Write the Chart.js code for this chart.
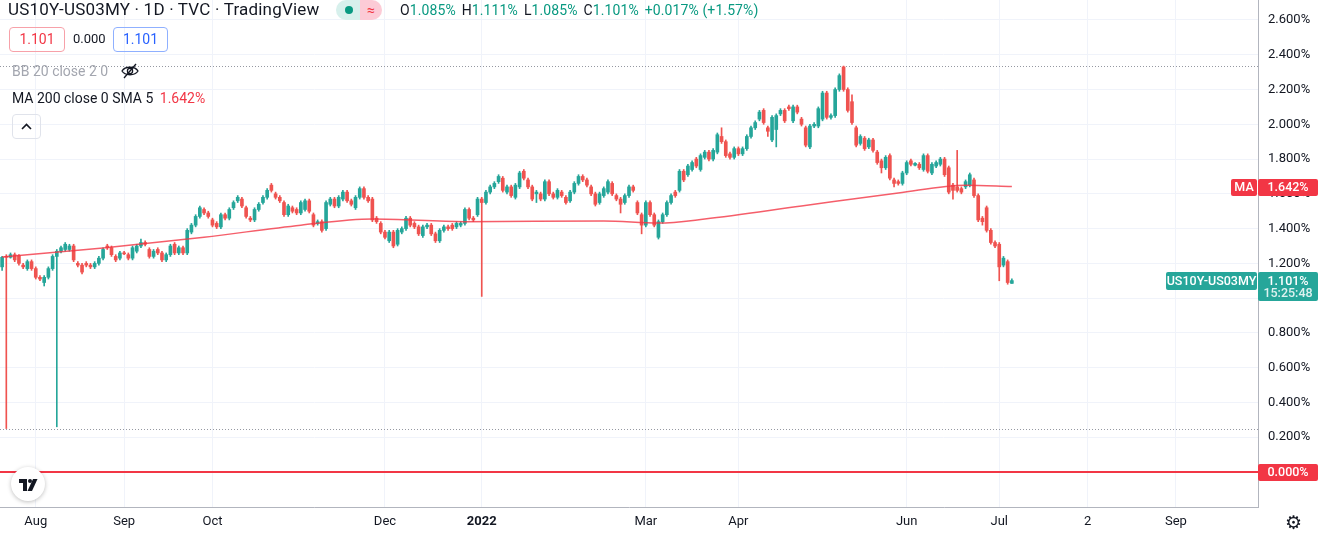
<!DOCTYPE html>
<html>
<head>
<meta charset="utf-8">
<title>US10Y-US03MY</title>
<script src="https://cdn.jsdelivr.net/npm/chart.js@4.4.1/dist/chart.umd.min.js"></script>
<style>
  html, body { margin: 0; padding: 0; background: #fff; overflow: hidden; }
  #wrap { position: relative; width: 1332px; height: 543px; font-family: Roboto, "Noto Sans", sans-serif; color: #131722; }
  #wrap canvas { position: absolute; left: 0; top: 0; }
  .abs { position: absolute; white-space: nowrap; }
  .title { left: 8px; top: -1px; font-size: 17px; line-height: 20px; letter-spacing: 0.2px; }
  .pill { left: 336px; top: 0px; height: 20px; width: 46px; border-radius: 10px; overflow: hidden; display: flex; }
  .pill .a { width: 24px; background: #d7f0ec; position: relative; }
  .pill .a i { position: absolute; left: 9px; top: 6px; width: 8px; height: 8px; border-radius: 50%; background: #089981; }
  .pill .b { width: 22px; background: #fccbd6; color: #f23645; font-size: 14px; line-height: 20px; text-align: center; }
  .ohlc { left: 400px; top: 0px; font-size: 14px; line-height: 20px; letter-spacing: 0.1px; }
  .ohlc b { font-weight: normal; color: #089981; margin-right: 6px; }
  .box { top: 27px; height: 23px; border-radius: 4px; font-size: 14px; line-height: 23px; text-align: center; }
  .row { left: 12px; font-size: 14px; line-height: 18px; }
  .btn { left: 12px; top: 114px; width: 27px; height: 23px; border: 1px solid #e0e3eb; border-radius: 4px; }
  .logo { left: 11px; top: 467px; width: 34px; height: 34px; border-radius: 50%; background: #fff; box-shadow: 0 1px 4px rgba(0,0,0,0.25); }
</style>
</head>
<body>
<div id="wrap">
  <canvas id="chart" width="1332" height="543"></canvas>

  <div class="abs title">US10Y-US03MY · 1D · TVC · TradingView</div>
  <div class="abs pill"><div class="a"><i></i></div><div class="b">≈</div></div>
  <div class="abs ohlc">O<b>1.085%</b>H<b>1.111%</b>L<b>1.085%</b>C<b>1.101%</b><b>+0.017% (+1.57%)</b></div>

  <div class="abs box" style="left:9px;width:54px;border:1px solid #f7a1a9;color:#f23645;">1.101</div>
  <div class="abs" style="left:73px;top:31px;font-size:13px;">0.000</div>
  <div class="abs box" style="left:113px;width:53px;border:1px solid #8fb0ff;color:#2962ff;">1.101</div>

  <div class="abs row" style="top:62px;color:#a3a6af;">BB 20 close 2 0</div>
  <svg class="abs" style="left:120px;top:62px;" width="20" height="18" viewBox="0 0 20 18">
    <path d="M2 9 C5 4,15 4,18 9 C15 14,5 14,2 9 Z" fill="none" stroke="#131722" stroke-width="1.3"/>
    <circle cx="10" cy="9" r="2.6" fill="none" stroke="#131722" stroke-width="1.3"/>
    <line x1="4" y1="16" x2="16" y2="2" stroke="#131722" stroke-width="1.3"/>
  </svg>
  <div class="abs row" style="top:89px;">MA 200 close 0 SMA 5 <span style="color:#f23645;margin-left:3px;">1.642%</span></div>
  <div class="abs btn">
    <svg width="27" height="23" viewBox="0 0 27 23"><polyline points="9,14 13.5,9.5 18,14" fill="none" stroke="#131722" stroke-width="1.6"/></svg>
  </div>

  <div class="abs logo">
    <svg width="34" height="34" viewBox="0 0 34 34">
      <path d="M8 12 H16 V24 H12 V16 H8 Z" fill="#131722"/>
      <circle cx="19" cy="14" r="2" fill="#131722"/>
      <path d="M22 12 H26.5 L21 24 H16.5 Z" fill="#131722"/>
    </svg>
  </div>
  <div class="abs" style="left:1285px;top:511px;font-size:19px;font-family:'DejaVu Sans';color:#131722;">⚙</div>
</div>

<script>
(function () {
    "use strict";

    // Daily candles, US10Y-US03MY spread (%)
    var opens = [
        1.18, 1.24, 1.235, 1.25, 1.245, 1.19, 1.17, 1.21, 1.17, 1.12,
        1.09, 1.12, 1.17, 1.24, 1.27, 1.28, 1.28, 1.30, 1.20, 1.19,
        1.20, 1.19, 1.18, 1.20, 1.23, 1.30, 1.29, 1.24, 1.23, 1.26,
        1.25, 1.23, 1.27, 1.30, 1.32, 1.28, 1.24, 1.28, 1.26, 1.22,
        1.25, 1.31, 1.26, 1.29, 1.26, 1.38, 1.42, 1.47, 1.51, 1.49,
        1.45, 1.43, 1.41, 1.48, 1.46, 1.52, 1.56, 1.57, 1.52, 1.46,
        1.45, 1.51, 1.55, 1.58, 1.65, 1.60, 1.58, 1.55, 1.48, 1.52,
        1.51, 1.49, 1.51, 1.56, 1.48, 1.43, 1.44, 1.40, 1.54, 1.57,
        1.53, 1.57, 1.61, 1.56, 1.52, 1.58, 1.63, 1.58, 1.57, 1.46,
        1.43, 1.38, 1.33, 1.38, 1.31, 1.38, 1.40, 1.46, 1.43, 1.41,
        1.36, 1.41, 1.42, 1.37, 1.33, 1.39, 1.41, 1.42, 1.41, 1.42,
        1.43, 1.51, 1.46, 1.48, 1.57, 1.55, 1.61, 1.64, 1.67, 1.69,
        1.61, 1.64, 1.58, 1.64, 1.73, 1.68, 1.64, 1.60, 1.60, 1.57,
        1.67, 1.60, 1.58, 1.61, 1.58, 1.56, 1.61, 1.66, 1.70, 1.68,
        1.64, 1.60, 1.55, 1.59, 1.61, 1.66, 1.59, 1.57, 1.55, 1.59,
        1.64, 1.55, 1.48, 1.42, 1.55, 1.48, 1.35, 1.44, 1.48, 1.55,
        1.61, 1.62, 1.73, 1.71, 1.74, 1.80, 1.74, 1.81, 1.84, 1.80,
        1.84, 1.93, 1.90, 1.83, 1.81, 1.86, 1.83, 1.86, 1.93, 1.98,
        2.03, 2.08, 1.98, 1.91, 1.97, 2.06, 2.08, 2.10, 2.02, 2.10,
        2.03, 1.98, 1.87, 1.99, 1.99, 2.03, 2.18, 2.04, 2.05, 2.20,
        2.33, 2.20, 2.13, 1.98, 1.89, 1.92, 1.87, 1.91, 1.84, 1.79,
        1.75, 1.82, 1.68, 1.67, 1.66, 1.72, 1.79, 1.765, 1.77, 1.74,
        1.82, 1.72, 1.76, 1.77, 1.80, 1.75, 1.65, 1.64, 1.63, 1.64,
        1.65, 1.68, 1.59, 1.46, 1.52, 1.39, 1.32, 1.31, 1.19, 1.21,
        1.085
    ];
    var highs = [
        1.24, 1.25, 1.26, 1.26, 1.25, 1.20, 1.22, 1.22, 1.18, 1.13,
        1.13, 1.18, 1.25, 1.28, 1.30, 1.32, 1.31, 1.31, 1.21, 1.20,
        1.21, 1.20, 1.21, 1.24, 1.29, 1.31, 1.30, 1.25, 1.27, 1.27,
        1.26, 1.30, 1.31, 1.34, 1.33, 1.29, 1.28, 1.29, 1.27, 1.26,
        1.31, 1.32, 1.30, 1.30, 1.40, 1.43, 1.48, 1.53, 1.52, 1.50,
        1.46, 1.44, 1.49, 1.49, 1.52, 1.56, 1.59, 1.58, 1.53, 1.47,
        1.52, 1.55, 1.59, 1.63, 1.66, 1.61, 1.59, 1.56, 1.54, 1.53,
        1.52, 1.56, 1.57, 1.57, 1.49, 1.45, 1.45, 1.56, 1.58, 1.58,
        1.59, 1.62, 1.62, 1.57, 1.59, 1.64, 1.64, 1.59, 1.58, 1.47,
        1.44, 1.39, 1.39, 1.39, 1.40, 1.41, 1.47, 1.47, 1.44, 1.42,
        1.42, 1.43, 1.43, 1.38, 1.40, 1.42, 1.42, 1.43, 1.44, 1.44,
        1.52, 1.52, 1.47, 1.58, 1.58, 1.62, 1.65, 1.67, 1.71, 1.70,
        1.65, 1.65, 1.66, 1.73, 1.74, 1.69, 1.65, 1.62, 1.61, 1.68,
        1.68, 1.61, 1.63, 1.62, 1.59, 1.62, 1.67, 1.71, 1.71, 1.69,
        1.65, 1.61, 1.61, 1.64, 1.68, 1.67, 1.60, 1.58, 1.60, 1.65,
        1.65, 1.56, 1.49, 1.56, 1.56, 1.49, 1.45, 1.49, 1.56, 1.60,
        1.62, 1.74, 1.74, 1.77, 1.79, 1.81, 1.83, 1.85, 1.85, 1.86,
        1.95, 1.98, 1.91, 1.84, 1.87, 1.87, 1.87, 1.94, 1.99, 2.02,
        2.08, 2.09, 1.99, 2.05, 2.06, 2.09, 2.09, 2.11, 2.11, 2.11,
        2.04, 1.99, 2.00, 2.01, 2.10, 2.19, 2.19, 2.06, 2.21, 2.29,
        2.335, 2.21, 2.17, 1.99, 1.94, 1.93, 1.92, 1.92, 1.85, 1.80,
        1.82, 1.83, 1.69, 1.68, 1.73, 1.79, 1.80, 1.78, 1.78, 1.83,
        1.83, 1.78, 1.79, 1.81, 1.81, 1.76, 1.66, 1.85, 1.64, 1.68,
        1.72, 1.69, 1.60, 1.47, 1.53, 1.40, 1.33, 1.32, 1.24, 1.22,
        1.111
    ];
    var lows = [
        1.16, 0.25, 1.23, 1.21, 1.19, 1.17, 1.16, 1.16, 1.11, 1.10,
        1.07, 1.11, 1.16, 0.26, 1.26, 1.27, 1.27, 1.21, 1.18, 1.14,
        1.18, 1.17, 1.17, 1.19, 1.22, 1.28, 1.24, 1.21, 1.22, 1.25,
        1.22, 1.22, 1.26, 1.29, 1.30, 1.23, 1.23, 1.25, 1.21, 1.21,
        1.24, 1.25, 1.25, 1.25, 1.25, 1.37, 1.41, 1.46, 1.48, 1.46,
        1.41, 1.40, 1.40, 1.45, 1.45, 1.51, 1.55, 1.52, 1.46, 1.44,
        1.44, 1.50, 1.54, 1.57, 1.61, 1.57, 1.55, 1.47, 1.47, 1.49,
        1.48, 1.48, 1.50, 1.49, 1.41, 1.42, 1.38, 1.39, 1.53, 1.52,
        1.52, 1.56, 1.55, 1.53, 1.51, 1.57, 1.57, 1.55, 1.44, 1.43,
        1.37, 1.34, 1.32, 1.29, 1.30, 1.37, 1.39, 1.41, 1.40, 1.36,
        1.35, 1.40, 1.36, 1.32, 1.32, 1.38, 1.39, 1.39, 1.40, 1.41,
        1.42, 1.45, 1.44, 1.47, 1.01, 1.54, 1.60, 1.63, 1.66, 1.61,
        1.60, 1.58, 1.57, 1.63, 1.68, 1.63, 1.56, 1.55, 1.56, 1.56,
        1.59, 1.57, 1.57, 1.58, 1.54, 1.55, 1.60, 1.65, 1.67, 1.64,
        1.59, 1.53, 1.54, 1.58, 1.60, 1.59, 1.56, 1.49, 1.54, 1.58,
        1.61, 1.48, 1.37, 1.41, 1.47, 1.41, 1.34, 1.43, 1.47, 1.54,
        1.58, 1.61, 1.67, 1.70, 1.73, 1.75, 1.73, 1.80, 1.79, 1.79,
        1.83, 1.89, 1.81, 1.80, 1.80, 1.82, 1.82, 1.85, 1.92, 1.97,
        2.02, 2.00, 1.93, 1.90, 1.87, 2.05, 2.01, 2.08, 2.01, 2.06,
        1.99, 1.87, 1.86, 1.98, 1.98, 2.02, 2.03, 2.03, 2.04, 2.19,
        2.19, 2.07, 2.00, 1.87, 1.88, 1.85, 1.86, 1.84, 1.77, 1.72,
        1.74, 1.68, 1.64, 1.65, 1.65, 1.71, 1.76, 1.76, 1.74, 1.73,
        1.72, 1.71, 1.75, 1.76, 1.70, 1.60, 1.57, 1.61, 1.60, 1.63,
        1.64, 1.58, 1.44, 1.42, 1.38, 1.31, 1.29, 1.10, 1.18, 1.08,
        1.085
    ];
    var closes = [
        1.235, 1.235, 1.25, 1.22, 1.20, 1.18, 1.21, 1.17, 1.12, 1.11,
        1.12, 1.17, 1.24, 1.27, 1.29, 1.31, 1.30, 1.22, 1.19, 1.15,
        1.19, 1.18, 1.20, 1.23, 1.28, 1.29, 1.25, 1.22, 1.26, 1.255,
        1.23, 1.29, 1.30, 1.32, 1.31, 1.24, 1.27, 1.26, 1.22, 1.25,
        1.30, 1.26, 1.29, 1.26, 1.39, 1.42, 1.47, 1.52, 1.49, 1.47,
        1.42, 1.41, 1.48, 1.46, 1.51, 1.55, 1.58, 1.53, 1.47, 1.45,
        1.51, 1.54, 1.58, 1.62, 1.62, 1.58, 1.56, 1.48, 1.53, 1.50,
        1.49, 1.55, 1.56, 1.50, 1.42, 1.44, 1.39, 1.55, 1.57, 1.53,
        1.58, 1.61, 1.56, 1.54, 1.58, 1.63, 1.58, 1.56, 1.45, 1.44,
        1.38, 1.35, 1.38, 1.30, 1.39, 1.40, 1.46, 1.42, 1.41, 1.37,
        1.41, 1.42, 1.37, 1.33, 1.39, 1.41, 1.40, 1.40, 1.43, 1.43,
        1.51, 1.46, 1.45, 1.57, 1.55, 1.61, 1.64, 1.66, 1.70, 1.62,
        1.64, 1.59, 1.65, 1.72, 1.69, 1.64, 1.57, 1.61, 1.57, 1.67,
        1.60, 1.58, 1.62, 1.59, 1.55, 1.61, 1.66, 1.70, 1.68, 1.65,
        1.60, 1.54, 1.60, 1.63, 1.67, 1.60, 1.57, 1.54, 1.59, 1.64,
        1.62, 1.49, 1.42, 1.55, 1.48, 1.42, 1.44, 1.48, 1.55, 1.59,
        1.59, 1.73, 1.68, 1.76, 1.78, 1.76, 1.82, 1.84, 1.80, 1.85,
        1.94, 1.90, 1.82, 1.81, 1.86, 1.83, 1.86, 1.93, 1.98, 2.01,
        2.07, 2.01, 1.96, 2.04, 2.05, 2.08, 2.02, 2.09, 2.10, 2.07,
        2.00, 1.88, 1.99, 2.00, 2.09, 2.18, 2.04, 2.05, 2.20, 2.28,
        2.20, 2.08, 2.01, 1.88, 1.93, 1.86, 1.91, 1.85, 1.78, 1.75,
        1.81, 1.69, 1.66, 1.66, 1.72, 1.78, 1.77, 1.775, 1.75, 1.82,
        1.73, 1.77, 1.78, 1.80, 1.71, 1.61, 1.62, 1.62, 1.61, 1.67,
        1.71, 1.59, 1.45, 1.44, 1.39, 1.32, 1.30, 1.18, 1.23, 1.09,
        1.101
    ];

    // MA 200 (SMA 5), sampled along the line at these candle slots
    var maSlots = [0, 24, 48, 71, 88, 110, 143, 156, 167, 190, 213, 229, 240];
    var maValues = [1.237, 1.288, 1.35, 1.42, 1.455, 1.44, 1.444, 1.432, 1.455, 1.53, 1.605, 1.65, 1.642];

    // Time axis
    var tickLabels = ["Aug", "Sep", "Oct", "Dec", "2022", "Mar", "Apr", "Jun", "Jul", "2", "Sep"];
    var tickSlots = [8, 29, 50, 91, 114, 153, 175, 215, 237, 258, 279];
    var SLOTS = 299;

    var lastClose = 1.101;
    var lastMA = 1.642;

    var UP = "#26a69a", DOWN = "#ef5350";

    var labels = [];
    for (var i = 0; i < SLOTS; i++) labels.push("");
    tickSlots.forEach(function (s, k) { labels[s] = tickLabels[k]; });

    var colors = closes.map(function (c, i) { return c >= opens[i] ? UP : DOWN; });
    var maData = closes.map(function () { return null; });
    maSlots.forEach(function (s, k) { maData[s] = maValues[k]; });

    var maxHigh = Math.max.apply(null, highs);
    var minLow = Math.min.apply(null, lows);

    // y range shown: 0% sits at 472px, 2.6% at 20px
    var Y_MIN = -0.2013, Y_MAX = 2.715;

    function box(ctx, x, y, w, h, bg, text, color, font) {
        ctx.fillStyle = bg;
        ctx.beginPath();
        ctx.roundRect(x, y, w, h, 2);
        ctx.fill();
        if (text) {
            ctx.fillStyle = color;
            ctx.font = font || "12px Roboto";
            ctx.textAlign = "center";
            ctx.textBaseline = "middle";
            ctx.fillText(text, x + w / 2, y + h / 2 + 0.5);
        }
    }

    // Price lines and right-hand labels
    var overlay = {
        id: "overlay",
        beforeDatasetsDraw: function (chart) {
            var ctx = chart.ctx, a = chart.chartArea, y = chart.scales.y;
            ctx.save();
            ctx.strokeStyle = "#9598a1";
            ctx.lineWidth = 1;
            ctx.setLineDash([1, 2]);
            [maxHigh, minLow].forEach(function (v) {
                var py = Math.round(y.getPixelForValue(v)) + 0.5;
                ctx.beginPath();
                ctx.moveTo(a.left, py);
                ctx.lineTo(a.right, py);
                ctx.stroke();
            });
            ctx.restore();
        },
        afterDraw: function (chart) {
            var ctx = chart.ctx, a = chart.chartArea, y = chart.scales.y;
            var x0 = a.right;
            var f = "500 12.5px Roboto";
            ctx.save();

            var z = Math.round(y.getPixelForValue(0));
            ctx.strokeStyle = "#f23645";
            ctx.lineWidth = 2;
            ctx.beginPath();
            ctx.moveTo(a.left, z);
            ctx.lineTo(a.right, z);
            ctx.stroke();
            box(ctx, x0, z - 8, 60, 17, "#f23645", "0.000%", "#fff", f);

            var m = Math.round(y.getPixelForValue(lastMA));
            box(ctx, x0 - 27, m - 8, 26, 17, "#f23645", "MA", "#fff", f);
            box(ctx, x0, m - 8, 60, 17, "#f23645", lastMA.toFixed(3) + "%", "#fff", f);

            var p = Math.round(y.getPixelForValue(lastClose));
            box(ctx, x0 - 92, p - 9, 91, 18, "#26a69a", "US10Y-US03MY", "#fff", f);
            box(ctx, x0, p - 9, 60, 29, "#26a69a", null);
            ctx.fillStyle = "#fff";
            ctx.font = f;
            ctx.textAlign = "center";
            ctx.textBaseline = "middle";
            ctx.fillText(lastClose.toFixed(3) + "%", x0 + 30, p + 0.5);
            ctx.fillStyle = "rgba(255,255,255,0.85)";
            ctx.fillText("15:25:48", x0 + 30, p + 13);
            ctx.restore();
        }
    };

    new Chart(document.getElementById("chart").getContext("2d"), {
        type: "bar",
        data: {
            labels: labels,
            datasets: [
                {
                    type: "line",
                    data: maData,
                    spanGaps: true,
                    cubicInterpolationMode: "monotone",
                    borderColor: "rgba(242, 54, 69, 0.8)",
                    borderWidth: 1.5,
                    pointRadius: 0,
                    order: 0
                },
                {
                    data: opens.map(function (o, i) { return [o, closes[i]]; }),
                    backgroundColor: colors,
                    barThickness: 3,
                    minBarLength: 1,
                    grouped: false,
                    order: 1
                },
                {
                    data: lows.map(function (l, i) { return [l, highs[i]]; }),
                    backgroundColor: colors,
                    barThickness: 1,
                    grouped: false,
                    order: 2
                }
            ]
        },
        options: {
            responsive: false,
            animation: false,
            layout: { padding: 0 },
            plugins: { legend: { display: false }, tooltip: { enabled: false } },
            scales: {
                x: {
                    grid: { color: "#f0f3fa", offset: false, drawTicks: false },
                    border: { color: "#b2b5be" },
                    ticks: {
                        autoSkip: false,
                        maxRotation: 0,
                        padding: 7,
                        color: "#131722",
                        font: function (c) {
                            var bold = c.tick && c.tick.label === "2022";
                            return { family: "Roboto", size: 13, weight: bold ? "bold" : "normal" };
                        },
                        callback: function (v, i) { return labels[i] ? labels[i] : null; }
                    },
                    afterFit: function (s) {
                        s.height = 36;
                        s.paddingLeft = 0;
                        s.paddingRight = 0;
                    }
                },
                y: {
                    position: "right",
                    min: Y_MIN,
                    max: Y_MAX,
                    grid: { color: "#f0f3fa", drawTicks: false },
                    border: { color: "#b2b5be" },
                    ticks: {
                        stepSize: 0.2,
                        includeBounds: false,
                        padding: 10,
                        color: "#131722",
                        font: { family: "Roboto", size: 13 },
                        callback: function (v) { return v > -0.01 ? v.toFixed(3) + "%" : null; }
                    },
                    afterFit: function (s) {
                        s.width = 74;
                        s.paddingTop = 0;
                        s.paddingBottom = 0;
                    }
                }
            }
        },
        plugins: [overlay]
    });
})();
</script>
</body>
</html>
